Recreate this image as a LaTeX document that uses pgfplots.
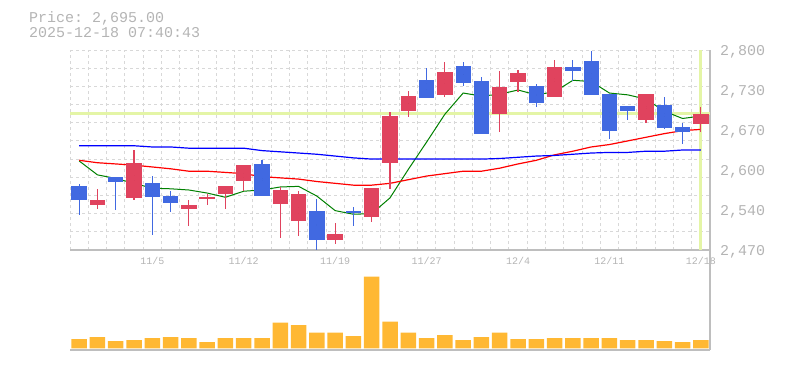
\documentclass[border=0pt]{standalone}
\usepackage{fontspec}
\setmonofont{Liberation Mono}
\usepackage{pgfplots}
\usepackage{pgfplotstable}
\pgfplotsset{compat=1.18}

\definecolor{upred}{HTML}{E0435E}
\definecolor{downblue}{HTML}{4169E1}
\definecolor{volorange}{HTML}{FFB833}
\definecolor{nowline}{HTML}{E4F5A6}
\definecolor{gridgray}{HTML}{D8D8D8}
\definecolor{axisgray}{HTML}{BEBEBE}
\definecolor{txtgray}{HTML}{B4B4B4}
\definecolor{magreen}{HTML}{008000}

% up (red) candles: x open high low close
\pgfplotstableread{
x open high low close
1 2544 2571 2538 2552
3 2556 2635 2552 2614
6 2538 2552 2510 2544
7 2554 2563 2544 2557
8 2563 2576 2538 2576
9 2584 2610 2568 2610
11 2546 2574 2490 2569
12 2518 2568 2493 2562
14 2487 2515 2480 2496
16 2525 2573 2516 2573
17 2614 2697 2571 2691
18 2700 2733 2689 2724
20 2726 2780 2723 2763
23 2695 2765 2665 2739
24 2748 2767 2731 2762
26 2723 2783 2723 2772
31 2685 2727 2680 2727
34 2678 2706 2665 2695
}\upcandles

% down (blue) candles
\pgfplotstableread{
x open high low close
0 2576 2579 2528 2552
2 2590 2591 2536 2582
4 2580 2592 2495 2558
5 2559 2567 2533 2548
10 2612 2618 2559 2559
13 2534 2554 2470 2487
15 2534 2541 2510 2531
19 2750 2770 2720 2720
21 2774 2780 2740 2746
22 2749 2755 2661 2661
25 2741 2744 2706 2713
27 2772 2783 2749 2766
28 2782 2798 2725 2725
29 2727 2727 2653 2667
30 2708 2708 2684 2700
32 2709 2722 2669 2671
33 2673 2680 2645 2664
}\downcandles

% moving averages
\pgfplotstableread{
x ma5 ma25 ma75
0 2617 2618 2642
1 2594 2614 2642
2 2588 2612 2642
3 2580 2610 2642
4 2572 2607 2640
5 2571 2604 2640
6 2569 2600 2638
7 2564 2600 2638
8 2557 2598 2638
9 2567 2596 2638
10 2569 2591 2634
11 2574 2589 2632
12 2575 2587 2630
13 2559 2583 2628
14 2535 2580 2625
15 2529 2577 2622
16 2530 2577 2620
17 2556 2580 2620
18 2603 2586 2620
19 2648 2592 2620
20 2694 2596 2620
21 2729 2600 2620
22 2724 2600 2620
23 2727 2605 2621
24 2734 2612 2623
25 2726 2618 2625
26 2731 2627 2626
27 2750 2633 2628
28 2748 2640 2630
29 2729 2644 2631
30 2726 2650 2631
31 2719 2656 2633
32 2699 2662 2633
33 2687 2667 2635
34 2691 2669 2635
}\matable

% volume
\pgfplotstableread{
x vol
0 93
1 113
2 73
3 83
4 103
5 113
6 103
7 63
8 103
9 103
10 103
11 256
12 233
13 156
14 156
15 123
16 716
17 266
18 156
19 103
20 133
21 83
22 113
23 156
24 93
25 93
26 103
27 103
28 103
29 103
30 83
31 83
32 73
33 63
34 83
}\voltable

\pgfplotsset{
  candle/.style 2 args={only marks, mark=*, mark size=0pt,
    mark options={draw=none, fill=none}, forget plot,
    error bars/.cd, y dir=both, y explicit, error mark=none,
    error bar style={draw=#1, line width=#2}},
}

\begin{document}
\begin{tikzpicture}[x=1bp,y=1bp]
\useasboundingbox (0,0) rectangle (785,370);

\node[anchor=west, inner sep=0pt, text=txtgray, font=\fontsize{15bp}{15bp}\selectfont\ttfamily] at (29,352) {Price: 2,695.00};
\node[anchor=west, inner sep=0pt, text=txtgray, font=\fontsize{15bp}{15bp}\selectfont\ttfamily] at (29,337) {2025-12-18 07:40:43};

% price panel
\begin{axis}[
  at={(70bp,120bp)}, anchor=south west,
  width=640bp, height=200bp, scale only axis,
  xmin=-0.5, xmax=34.5, ymin=2470, ymax=2800,
  axis x line*=bottom, axis y line*=right,
  axis line style={draw=axisgray, line width=1.5bp, -},
  xtick={4,9,14,19,24,29,34},
  xticklabels={11/5,11/12,11/19,11/27,12/4,12/11,12/18},
  minor xtick={-0.5,0.5,...,34.5},
  ytick={2470,2536,2602,2668,2734,2800},
  yticklabels={{2,470},{2,540},{2,600},{2,670},{2,730},{2,800}},
  minor ytick={2470,2500,...,2800},
  xminorgrids, yminorgrids,
  minor grid style={draw=gridgray, dash pattern=on 3bp off 3bp, line width=1bp},
  major tick length=0pt, minor tick length=0pt,
  tick style={draw=none},
  yticklabel style={font=\fontsize{15bp}{15bp}\selectfont\ttfamily, text=txtgray, anchor=west, inner sep=0pt, xshift=10bp, yshift=-1.5bp},
  xticklabel style={font=\fontsize{10bp}{10bp}\selectfont\ttfamily, text=txtgray, anchor=north, inner sep=0pt, yshift=-7bp},
]
\addplot[nowline, line width=3.5bp, forget plot] coordinates {(-0.5,2695) (34.5,2695)};
\addplot[nowline, line width=3bp, forget plot] coordinates {(34,2470) (34,2800)};

\addplot[magreen, line width=1bp, forget plot] table[x=x, y=ma5] \matable;
\addplot[red, line width=1.2bp, forget plot] table[x=x, y=ma25] \matable;
\addplot[blue, line width=1.2bp, forget plot] table[x=x, y=ma75] \matable;

% wicks
\addplot[candle={upred}{1.2bp}]
  table[x=x, y expr={(\thisrow{high}+\thisrow{low})/2}, y error expr={(\thisrow{high}-\thisrow{low})/2}] \upcandles;
\addplot[candle={downblue}{1.2bp}]
  table[x=x, y expr={(\thisrow{high}+\thisrow{low})/2}, y error expr={(\thisrow{high}-\thisrow{low})/2}] \downcandles;
% bodies
\addplot[candle={upred}{15.3bp}]
  table[x=x, y expr={(\thisrow{open}+\thisrow{close})/2}, y error expr={abs(\thisrow{close}-\thisrow{open})/2}] \upcandles;
\addplot[candle={downblue}{15.3bp}]
  table[x=x, y expr={(\thisrow{open}+\thisrow{close})/2}, y error expr={abs(\thisrow{close}-\thisrow{open})/2}] \downcandles;
\end{axis}

% volume panel
\begin{axis}[
  at={(70bp,20bp)}, anchor=south west,
  width=640bp, height=100bp, scale only axis,
  xmin=-0.5, xmax=34.5, ymin=-17, ymax=983,
  axis x line*=bottom, axis y line*=right,
  axis line style={draw=axisgray, line width=1.5bp, -},
  xtick=\empty, ytick=\empty,
  minor xtick={-0.5,0.5,...,34.5},
  xminorgrids,
  minor grid style={draw=gridgray, dash pattern=on 3bp off 3bp, line width=1bp},
  major tick length=0pt, minor tick length=0pt,
  tick style={draw=none},
  ybar, bar width=15.5bp,
]
\addplot[fill=volorange, draw=none] table[x=x, y=vol] \voltable;
\end{axis}
\end{tikzpicture}
\end{document}
